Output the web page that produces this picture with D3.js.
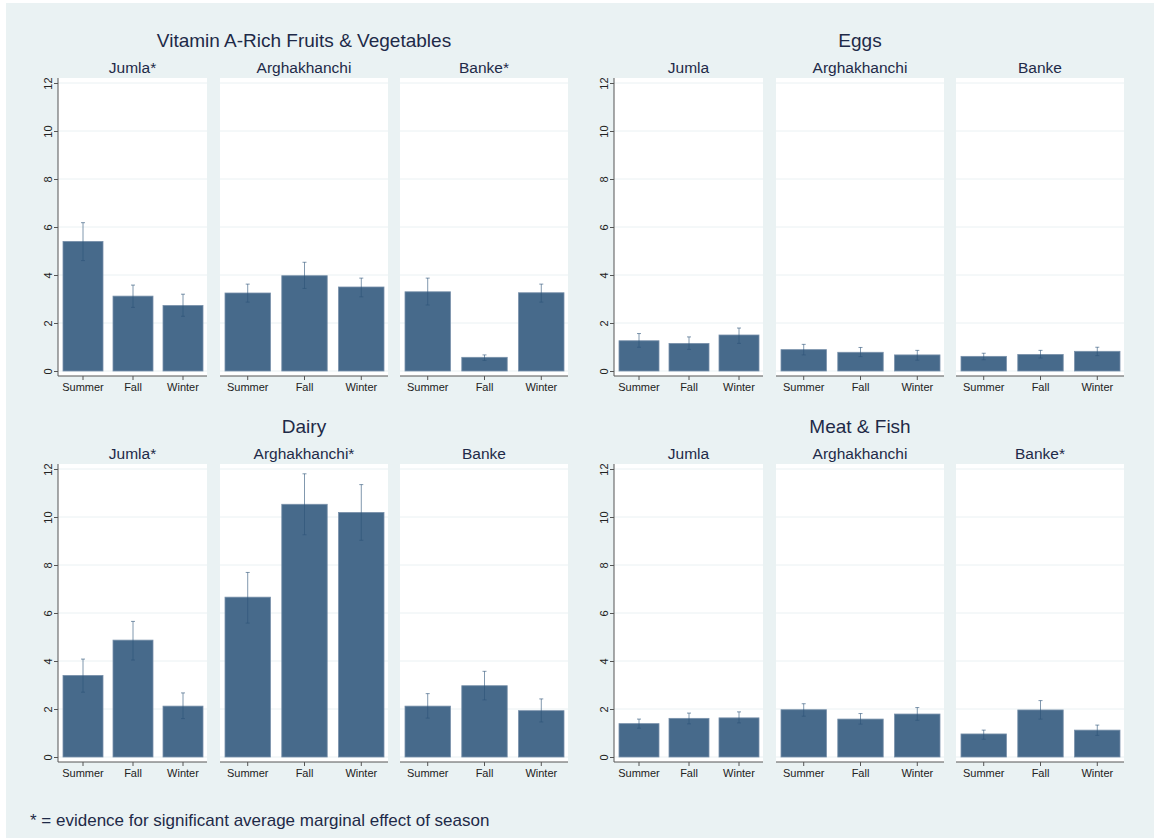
<!DOCTYPE html>
<html>
<head>
<meta charset="utf-8">
<script src="https://cdn.jsdelivr.net/npm/d3@7"></script>
<style>
  body { margin: 0; background: #fff; }
  text { font-family: "Liberation Sans", Arial, sans-serif; }
</style>
</head>
<body>
<div id="chart"></div>
<script>
var width = 1154;
var height = 838;

var foodGroups = ["Vitamin A-Rich Fruits & Vegetables", "Eggs", "Dairy", "Meat & Fish"];
var districts = ["Jumla", "Arghakhanchi", "Banke"];
var seasons = ["Summer", "Fall", "Winter"];
var yTicks = [0, 2, 4, 6, 8, 10, 12];

// which district shows a significant season effect, per food group
var significant = [
  [true, false, true],
  [false, false, false],
  [true, true, false],
  [false, false, true]
];

// mean days, per food group -> district -> season
var means = [
  [[5.4, 3.12, 2.73], [3.25, 3.97, 3.5], [3.3, 0.57, 3.26]],
  [[1.26, 1.15, 1.5], [0.89, 0.78, 0.67], [0.61, 0.69, 0.82]],
  [[3.4, 4.87, 2.12], [6.66, 10.53, 10.19], [2.12, 2.97, 1.93]],
  [[1.39, 1.61, 1.63], [1.97, 1.58, 1.79], [0.96, 1.96, 1.12]]
];
var lower = [
  [[4.6, 2.65, 2.28], [2.87, 3.44, 3.09], [2.75, 0.44, 2.87]],
  [[0.99, 0.9, 1.15], [0.67, 0.6, 0.45], [0.47, 0.54, 0.64]],
  [[2.7, 4.04, 1.6], [5.58, 9.26, 9.03], [1.62, 2.38, 1.46]],
  [[1.2, 1.38, 1.42], [1.7, 1.37, 1.53], [0.74, 1.58, 0.9]]
];
var upper = [
  [[6.18, 3.58, 3.2], [3.62, 4.53, 3.87], [3.87, 0.67, 3.62]],
  [[1.56, 1.42, 1.79], [1.11, 0.98, 0.86], [0.74, 0.86, 0.99]],
  [[4.08, 5.65, 2.67], [7.69, 11.8, 11.35], [2.64, 3.57, 2.42]],
  [[1.58, 1.83, 1.88], [2.22, 1.81, 2.06], [1.12, 2.35, 1.33]]
];

var groupOffsets = [[0, 0], [556, 0], [0, 386], [556, 386]];
var panelX = [[58, 207], [220, 388], [400, 568]];
var plotTop = 78, plotBottom = 376;

var svg = d3.select("#chart").append("svg")
    .attr("width", width)
    .attr("height", height);

svg.append("rect")
    .attr("x", 6).attr("y", 3)
    .attr("width", width - 6).attr("height", height - 3)
    .attr("fill", "#eaf2f3");

var y = d3.scaleLinear().domain([0, 12]).range([371, 83]);

foodGroups.forEach(function(food, fi) {
  var off = groupOffsets[fi];
  var g = svg.append("g").attr("transform", "translate(" + off + ")");

  g.append("text")
      .attr("x", 304).attr("y", 47)
      .text(food)
      .style("text-anchor", "middle")
      .style("font-size", "19px")
      .style("fill", "#1e2a48");

  districts.forEach(function(dist, di) {
    var x0 = panelX[di][0], x1 = panelX[di][1];
    var p = g.append("g").attr("class", "panel");

    p.append("rect")
        .attr("x", x0).attr("y", plotTop)
        .attr("width", x1 - x0).attr("height", plotBottom - plotTop)
        .attr("fill", "#fff");

    p.selectAll(".grid")
        .data(yTicks)
        .enter().append("line")
        .attr("x1", x0).attr("x2", x1)
        .attr("y1", function(d) { return y(d); })
        .attr("y2", function(d) { return y(d); })
        .style("stroke", "#eaf1f3")
        .style("stroke-width", 1);

    p.append("text")
        .attr("x", (x0 + x1) / 2)
        .attr("y", 73)
        .text(dist + (significant[fi][di] ? "*" : ""))
        .style("text-anchor", "middle")
        .style("font-size", "15.5px")
        .style("fill", "#1e2a48");

    var x = d3.scaleBand()
        .domain(seasons)
        .range([x0 + 5, x1 - 4])
        .paddingInner(0.2);

    var rows = seasons.map(function(s, si) {
      return { season: s, mean: means[fi][di][si], lo: lower[fi][di][si], hi: upper[fi][di][si] };
    });

    p.selectAll(".bar")
        .data(rows)
        .enter().append("rect")
        .attr("class", "bar")
        .attr("x", function(d) { return x(d.season); })
        .attr("width", x.bandwidth())
        .attr("y", function(d) { return y(d.mean); })
        .attr("height", function(d) { return y(0) - y(d.mean); })
        .attr("fill", "#476a8b")
        .style("stroke", "#7890aa")
        .style("stroke-width", 0.8);

    var err = p.selectAll(".err")
        .data(rows)
        .enter().append("g")
        .attr("class", "err")
        .attr("transform", function(d) { return "translate(" + (x(d.season) + x.bandwidth() / 2) + ",0)"; });

    err.append("line")
        .attr("x1", 0).attr("x2", 0)
        .attr("y1", function(d) { return y(d.lo); })
        .attr("y2", function(d) { return y(d.hi); })
        .style("stroke", "#2d5478")
        .style("stroke-opacity", 0.6)
        .style("stroke-width", 1);

    err.selectAll(".cap")
        .data(function(d) { return [d.lo, d.hi]; })
        .enter().append("line")
        .attr("x1", -2).attr("x2", 2)
        .attr("y1", function(v) { return y(v); })
        .attr("y2", function(v) { return y(v); })
        .style("stroke", "#2d5478")
        .style("stroke-opacity", 0.6)
        .style("stroke-width", 1);

    // x axis
    var xAxis = p.append("g")
        .attr("transform", "translate(0," + plotBottom + ")")
        .call(d3.axisBottom(x).tickSize(4).tickSizeOuter(0));
    xAxis.select(".domain").remove();
    xAxis.insert("line", ":first-child")
        .attr("x1", x0).attr("x2", x1)
        .style("stroke", "#555")
        .style("stroke-width", 1);
    xAxis.selectAll(".tick line").style("stroke", "#555");
    xAxis.selectAll(".tick text")
        .attr("y", 7)
        .style("font-size", "11px")
        .style("fill", "#222")
        .style("font-family", "'Liberation Sans', Arial, sans-serif");

    if (di == 0) {
      var yAxis = p.append("g")
          .attr("transform", "translate(" + x0 + ",0)")
          .call(d3.axisLeft(y).tickValues(yTicks).tickSize(4).tickSizeOuter(0));
      yAxis.select(".domain")
          .attr("d", "M0," + plotTop + "V" + plotBottom)
          .style("stroke", "#555");
      yAxis.selectAll(".tick line").style("stroke", "#555");
      yAxis.selectAll(".tick text")
          .attr("x", 0).attr("dy", 0)
          .attr("transform", "translate(-6,0) rotate(-90)")
          .style("text-anchor", "middle")
          .style("font-size", "11px")
          .style("fill", "#222")
          .style("font-family", "'Liberation Sans', Arial, sans-serif");
    }
  });
});

svg.append("text")
    .attr("x", 30).attr("y", 826)
    .text("* = evidence for significant average marginal effect of season")
    .style("font-size", "17px")
    .style("fill", "#1e2a48");
</script>
</body>
</html>
